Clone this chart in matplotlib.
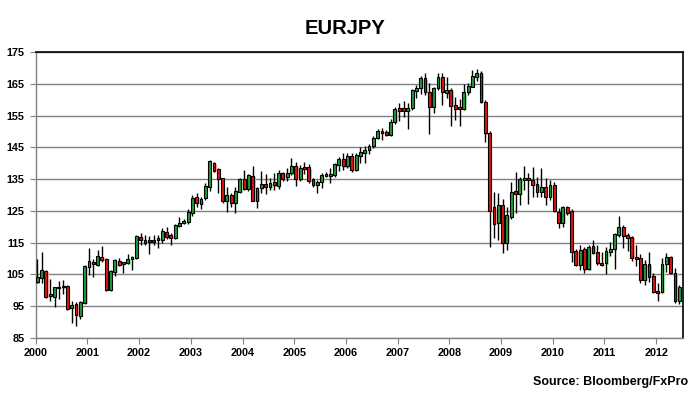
import matplotlib
matplotlib.use("Agg")
import matplotlib.pyplot as plt
from matplotlib.patches import Rectangle

# Monthly EURJPY candles, Jan 2000 .. Jun 2012
opens = [102.5, 104.0, 106.0, 98.8, 98.0, 100.7, 100.9, 101.4, 94.5, 95.7, 91.9, 96.1,
         107.4, 109.0, 108.0, 110.4, 109.9, 100.1, 105.9, 109.3, 108.2, 108.5, 109.9, 110.1,
         116.9, 115.8, 115.8, 115.9, 115.9, 115.8, 118.5, 117.4, 116.4, 120.2, 121.1, 121.6,
         124.4, 129.3, 127.2, 129.0, 132.6, 140.0, 138.1, 135.2, 128.2, 130.0, 127.4, 131.0,
         134.9, 132.0, 136.0, 128.2, 132.1, 133.5, 132.4, 134.1, 132.8, 136.8, 135.6, 136.8,
         139.1, 134.9, 138.7, 138.7, 134.9, 133.2, 134.2, 136.0, 136.0, 136.3, 139.4, 141.2,
         139.0, 142.3, 138.0, 142.3, 143.3, 144.2, 145.5, 148.0, 150.2, 149.9, 148.9, 153.1,
         157.3, 157.3, 156.5, 157.3, 162.7, 163.6, 166.7, 162.3, 157.6, 163.6, 167.2, 162.0,
         163.0, 158.3, 157.6, 157.1, 162.3, 164.1, 167.2, 168.3, 159.4, 149.4, 126.1, 121.1,
         126.8, 115.0, 123.2, 131.2, 130.4, 134.8, 135.2, 134.7, 133.5, 131.1, 132.4, 129.5,
         133.2, 124.8, 121.1, 126.1, 125.0, 112.5, 108.0, 112.9, 106.6, 114.0, 112.2, 108.5,
         108.5, 112.2, 112.9, 117.4, 120.0, 117.4, 116.7, 110.4, 110.1, 103.3, 108.3, 104.5,
         99.6, 99.5, 108.3, 110.4, 105.6, 96.8]
highs = [109.8, 112.0, 106.3, 103.5, 101.2, 103.0, 103.3, 101.8, 96.5, 96.2, 96.8, 108.0,
         113.2, 109.8, 112.7, 113.8, 110.2, 106.5, 109.9, 110.2, 109.0, 111.3, 110.8, 117.5,
         118.0, 117.5, 117.0, 117.5, 117.5, 119.5, 120.0, 117.9, 121.0, 123.0, 122.3, 125.7,
         129.9, 130.5, 129.5, 133.7, 141.0, 140.4, 138.4, 135.5, 132.6, 130.5, 132.6, 135.3,
         138.0, 136.7, 139.1, 132.5, 137.6, 136.7, 135.4, 137.0, 138.0, 137.1, 138.6, 141.5,
         140.5, 139.5, 140.5, 139.8, 135.3, 134.7, 137.0, 137.1, 138.6, 140.1, 142.1, 143.3,
         143.2, 143.2, 143.3, 145.0, 145.5, 146.0, 148.5, 150.8, 151.0, 150.3, 153.8, 157.8,
         159.0, 159.7, 158.9, 163.3, 164.5, 167.6, 168.5, 165.3, 164.0, 168.4, 168.4, 167.0,
         163.6, 160.9, 160.3, 164.9, 165.2, 169.3, 169.6, 169.0, 160.0, 150.0, 131.0, 130.7,
         128.8, 126.1, 134.2, 137.3, 135.8, 139.1, 136.8, 138.9, 135.8, 138.4, 135.2, 134.7,
         134.2, 125.8, 126.5, 126.5, 125.5, 112.9, 114.3, 113.7, 114.3, 115.8, 114.3, 112.2,
         113.7, 115.3, 117.9, 123.4, 120.6, 117.9, 117.1, 114.3, 111.4, 109.6, 112.2, 105.3,
         102.2, 110.1, 111.6, 110.8, 106.9, 101.7]
lows = [102.2, 102.2, 97.5, 96.5, 94.7, 97.2, 99.0, 93.9, 89.8, 88.9, 90.9, 95.8,
        104.8, 104.3, 107.7, 109.0, 99.8, 99.8, 104.6, 107.7, 105.5, 108.2, 106.4, 110.0,
        114.3, 114.3, 111.4, 114.3, 113.3, 115.0, 116.0, 114.3, 116.0, 119.8, 120.8, 120.8,
        123.5, 126.1, 125.5, 128.4, 131.4, 137.2, 130.5, 127.5, 124.7, 126.3, 124.2, 130.7,
        131.5, 131.3, 128.0, 125.8, 130.5, 130.3, 131.6, 131.6, 131.8, 134.4, 134.5, 136.4,
        132.8, 134.3, 136.6, 133.8, 132.5, 130.5, 132.1, 135.6, 133.8, 135.8, 137.6, 137.9,
        138.5, 137.2, 137.6, 140.0, 140.0, 143.0, 144.8, 147.5, 147.3, 148.5, 148.5, 152.3,
        153.4, 154.5, 150.7, 156.8, 160.6, 161.8, 161.4, 149.2, 155.9, 163.0, 158.3, 160.6,
        151.7, 153.6, 151.7, 156.8, 161.6, 164.0, 165.8, 159.0, 146.8, 113.5, 116.4, 115.8,
        111.8, 112.7, 122.6, 124.2, 127.0, 131.6, 127.2, 129.5, 129.5, 129.5, 126.9, 128.4,
        124.8, 119.5, 119.8, 123.8, 109.0, 107.5, 106.4, 105.4, 106.4, 111.4, 108.0, 107.8,
        105.2, 110.8, 106.6, 116.7, 113.2, 112.5, 109.3, 107.7, 102.4, 101.7, 102.7, 99.3,
        96.8, 99.3, 105.9, 105.2, 95.9, 95.7]
closes = [104.3, 106.4, 98.0, 98.3, 101.0, 101.0, 101.3, 94.2, 95.3, 92.2, 96.4, 107.7,
          109.3, 108.2, 110.8, 109.5, 100.1, 106.2, 109.5, 107.9, 108.8, 110.0, 110.6, 117.1,
          115.8, 115.0, 115.2, 115.3, 116.6, 118.8, 116.9, 116.4, 120.5, 121.2, 121.8, 124.8,
          129.0, 127.4, 128.6, 132.8, 140.7, 137.6, 135.0, 128.2, 130.0, 127.4, 131.4, 134.9,
          132.0, 136.3, 128.2, 132.1, 133.5, 132.6, 133.9, 133.0, 137.0, 134.9, 136.8, 139.1,
          134.9, 138.4, 138.1, 134.5, 133.2, 134.2, 136.3, 136.6, 136.6, 139.8, 141.2, 139.0,
          142.3, 138.0, 142.6, 143.6, 144.2, 145.5, 148.0, 150.2, 149.6, 148.9, 153.1, 157.0,
          156.5, 156.5, 157.3, 163.0, 163.6, 166.7, 162.3, 157.6, 163.6, 167.2, 162.5, 163.0,
          158.1, 157.1, 157.1, 162.3, 164.3, 167.4, 168.3, 159.4, 149.4, 125.1, 121.0, 126.8,
          115.0, 123.7, 131.1, 130.4, 135.0, 135.2, 134.7, 133.2, 131.1, 132.6, 129.5, 133.2,
          125.1, 121.1, 126.1, 124.4, 112.2, 108.0, 112.7, 106.6, 113.7, 111.9, 108.5, 108.0,
          112.4, 113.0, 117.6, 120.0, 117.1, 116.4, 110.1, 109.8, 103.3, 108.3, 104.3, 99.6,
          99.3, 108.3, 110.4, 105.6, 96.8, 101.2]
year_ticks = list(range(2000, 2013))
price_ticks = list(range(85, 176, 10))

W, H = 695, 395
fig = plt.figure(figsize=(W / 100, H / 100), dpi=100)
ax = fig.add_axes([35.7 / W, 1 - 338 / H, (683 - 35.7) / W, (338 - 52) / H])

month = 1 / 12.0
offset = 0.37 * month
bw = 0.66 * month
px = 1 / 51.7  # one pixel in years
py = 90 / 286.0  # one pixel in price

for i, (o, h, l, c) in enumerate(zip(opens, highs, lows, closes)):
    x = 2000 + i * month + offset
    up = c >= o
    body_c = '#1f9b3a' if up else '#e01212'
    shadow_c = '#b5e2b5' if up else '#f5b0b0'
    lo, hi = min(o, c), max(o, c)
    if hi - lo < 0.5:
        hi = lo + 0.5
    ax.add_patch(Rectangle((x - bw / 2 + 1.4 * px, lo - 1.2 * py), bw, hi - lo,
                           facecolor=shadow_c, edgecolor='none', zorder=2))
    ax.plot([x, x], [l, h], color='black', lw=1.0, zorder=3, solid_capstyle='butt')
    ax.add_patch(Rectangle((x - bw / 2, lo), bw, hi - lo, facecolor=body_c,
                           edgecolor='black', lw=0.8, zorder=4))

ax.set_xlim(2000, 2000 + (683 - 35.7) / 51.7)
ax.set_ylim(85, 175)
ax.set_yticks(price_ticks)
ax.set_xticks(year_ticks)
ax.set_yticklabels([str(v) for v in price_ticks], fontsize=7.8, fontweight='bold',
                   family='Liberation Sans')
ax.set_xticklabels([str(v) for v in year_ticks], fontsize=7.8, fontweight='bold',
                   family='Liberation Sans')
ax.grid(axis='y', color='#808080', lw=1.0, zorder=1)
ax.set_axisbelow(True)
for s in ['left', 'bottom']:
    ax.spines[s].set_color('#808080')
    ax.spines[s].set_linewidth(1.0)
for s in ['top', 'right']:
    ax.spines[s].set_color('black')
    ax.spines[s].set_linewidth(1.2)
ax.tick_params(axis='y', length=4, color='#808080', pad=4)
ax.tick_params(axis='x', length=4, color='#808080', pad=3)

fig.text(345 / W, 1 - 28 / H, 'EURJPY', ha='center', va='center', fontsize=14.5,
         fontweight='bold', family='Liberation Sans')
fig.text(688 / W, 1 - 382 / H, 'Source: Bloomberg/FxPro', ha='right', va='center',
         fontsize=9, fontweight='bold', family='Liberation Sans')

fig.savefig('out.png', dpi=100, facecolor='white')
